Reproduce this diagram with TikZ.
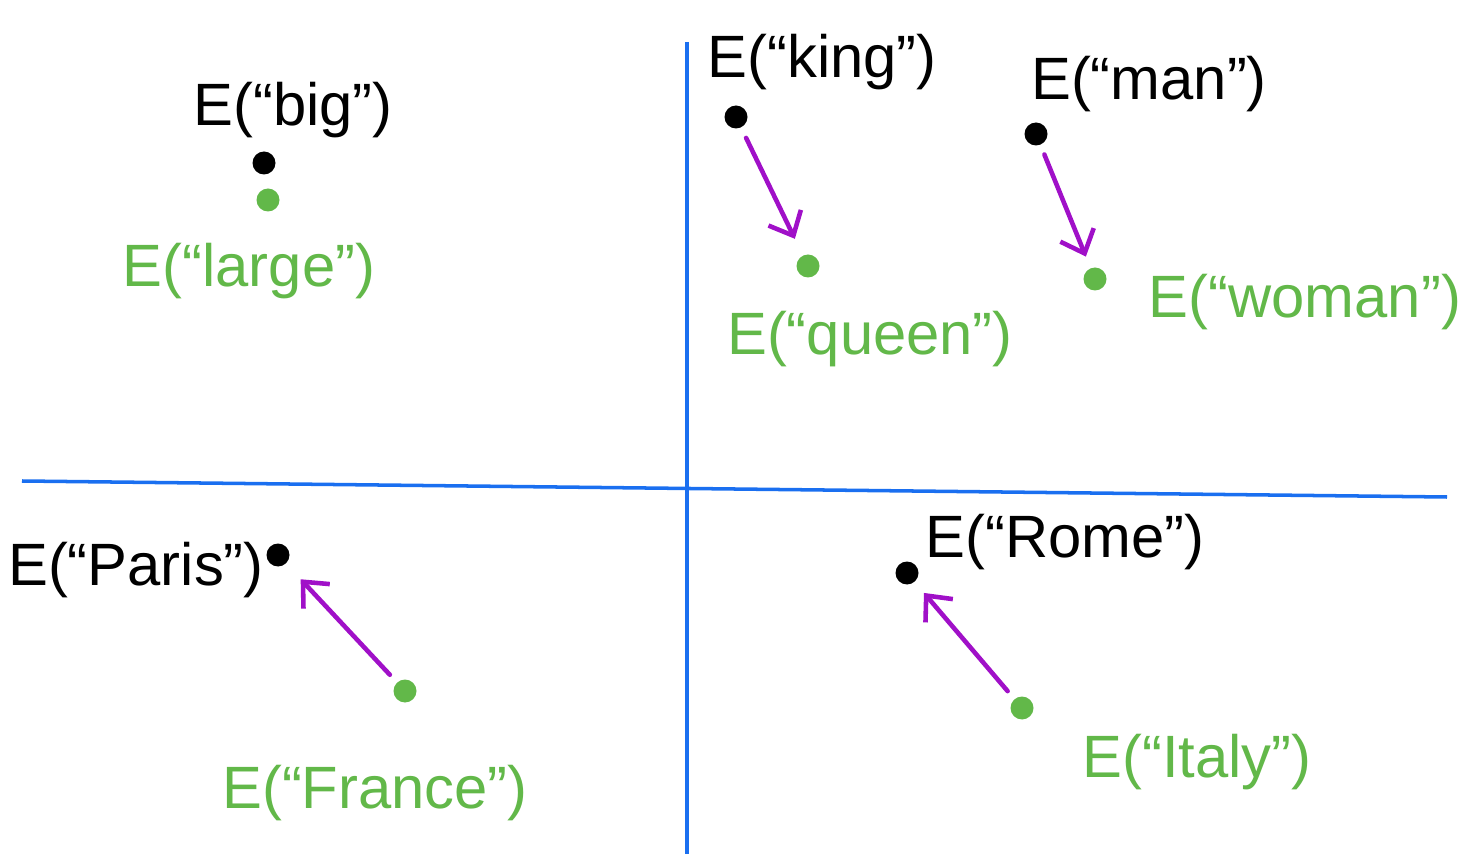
\documentclass[tikz,border=0pt]{standalone}
\usepackage{fontspec}
\setmainfont{Liberation Sans}
\usepackage{xcolor}
\usepackage{tikz}
\usetikzlibrary{positioning, arrows.meta}
\definecolor{axisBlue}{HTML}{1A6FF0}
\definecolor{wordGreen}{HTML}{62B849}
\definecolor{shiftPurple}{HTML}{A010C8}
\definecolor{wordBlack}{HTML}{000000}

\tikzset{
  blackdot/.style={circle, fill=wordBlack, inner sep=0pt, minimum size=2.3mm},
  greendot/.style={circle, fill=wordGreen, inner sep=0pt, minimum size=2.3mm},
  blacklabel/.style={font=\fontsize{17}{19}\selectfont, color=wordBlack, anchor=base, inner sep=0pt},
  greenlabel/.style={font=\fontsize{17}{19}\selectfont, color=wordGreen, anchor=base, inner sep=0pt},
  relarrow/.style={-{Straight Barb[length=2mm, width=3.6mm]}, line width=1.3pt, color=shiftPurple, line cap=round}
}

\begin{document}
\begin{tikzpicture}[x=0.1mm, y=-0.1mm]
  \useasboundingbox (0,0) rectangle (1470,854);
  % axes
  \draw[line width=1pt, color=axisBlue] (687,42) -- (687,854);
  \draw[line width=1pt, color=axisBlue] (22,481) -- (1447,497);

  % embeddings
  \node[blackdot] (big) at (264,163) {};
  \node[greendot] (large) at (268,200) {};
  \node[blackdot] (king) at (736,117) {};
  \node[greendot] (queen) at (808,266) {};
  \node[blackdot] (man) at (1036,134) {};
  \node[greendot] (woman) at (1095,279) {};
  \node[blackdot] (paris) at (278,555) {};
  \node[greendot] (france) at (405,691) {};
  \node[blackdot] (rome) at (907,573) {};
  \node[greendot] (italy) at (1022,708) {};

  \node[blacklabel] (bigtext) at (293,126) {E(``big'')};
  \node[greenlabel] (largetext) at (249,287) {E(``large'')};
  \node[blacklabel] (kingtext) at (822,78) {E(``king'')};
  \node[greenlabel] (queentext) at (870,355) {E(``queen'')};
  \node[blacklabel] (mantext) at (1149,100) {E(``man'')};
  \node[greenlabel] (womantext) at (1305,318) {E(``woman'')};
  \node[blacklabel] (paristext) at (136,585) {E(``Paris'')};
  \node[greenlabel] (francetext) at (375,808) {E(``France'')};
  \node[blacklabel] (rometext) at (1065,557) {E(``Rome'')};
  \node[greenlabel] (italytext) at (1197,777) {E(``Italy'')};

  % shifts
  \draw[relarrow, shorten <=1.1mm, shorten >=1.8mm] (king) -- (queen);
  \draw[relarrow, shorten <=1mm, shorten >=1.2mm] (man) -- (woman);
  \draw[relarrow, shorten <=1mm, shorten >=2.1mm] (france) -- (paris);
  \draw[relarrow, shorten <=1mm, shorten >=1.4mm] (italy) -- (rome);
\end{tikzpicture}
\end{document}
